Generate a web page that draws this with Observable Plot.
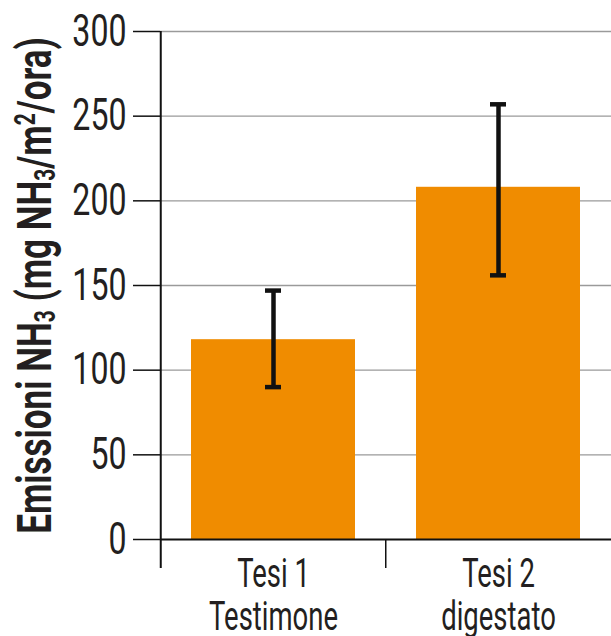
<!DOCTYPE html>
<html>
<head>
<meta charset="utf-8">
<script src="https://cdn.jsdelivr.net/npm/d3@7"></script>
<script src="https://cdn.jsdelivr.net/npm/@observablehq/plot@0.6"></script>
<style>
  html, body { margin: 0; padding: 0; background: #ffffff; }
  svg { display: block; }
</style>
</head>
<body>
<div id="chart"></div>
<script>
// ---- data ----
const categories = ["Tesi 1\nTestimone", "Tesi 2\ndigestato"];
const values = [118, 208];
const errLow = [90, 156];
const errHigh = [147, 257];
const yTicks = [0, 50, 100, 150, 200, 250, 300];
const yLabelParts = [
  {t: "Emissioni NH", k: "n"}, {t: "3", k: "sub"},
  {t: " (mg NH", k: "n"}, {t: "3", k: "sub"},
  {t: "/m", k: "n"}, {t: "2", k: "sup"}, {t: "/ora)", k: "n"}
];
const yLabelText = yLabelParts.map(p => p.t).join("");

const data = categories.map((c, i) => ({cat: c, value: values[i], lo: errLow[i], hi: errHigh[i]}));

const W = 611, H = 636, mL = 160, mR = 0, mT = 31, mB = 97;
const ink = "#231f20";
const xOpts = {domain: categories, paddingInner: 0.27, paddingOuter: 0.135};
const xs = Plot.scale({x: {type: "band", range: [mL, W - mR], ...xOpts}});
const half = xs.step / 2;

const chart = Plot.plot({
  width: W, height: H,
  marginLeft: mL, marginRight: mR, marginTop: mT, marginBottom: mB,
  style: {fontFamily: "Roboto, 'Liberation Sans', sans-serif", color: ink, background: "#ffffff", overflow: "visible"},
  x: {...xOpts, label: null},
  y: {domain: [0, 300], label: null},
  marks: [
    Plot.gridY(yTicks.filter(t => t > 0), {stroke: "#9a9a9a", strokeOpacity: 1, strokeWidth: 1.3}),
    Plot.barY(data, {x: "cat", y: "value", fill: "#f08c00"}),
    Plot.ruleX(data, {x: "cat", y1: "lo", y2: "hi", stroke: "#111", strokeWidth: 4.5}),
    Plot.tickY(data, {x: "cat", y: "hi", stroke: "#111", strokeWidth: 4.5, inset: 74}),
    Plot.tickY(data, {x: "cat", y: "lo", stroke: "#111", strokeWidth: 4.5, inset: 74}),
    Plot.ruleY([0], {stroke: "#111", strokeWidth: 2.2}),
    Plot.ruleX([categories[0]], {x: d => d, dx: -half, stroke: "#111", strokeWidth: 2, insetBottom: -29}),
    Plot.ruleX([categories[1]], {x: d => d, dx: -half, y1: 0, y2: 0, stroke: "#111", strokeWidth: 1.5, insetBottom: -29}),
    Plot.axisY({ticks: yTicks, tickSize: 27, tickPadding: 7, fontSize: 44, stroke: "#111", strokeWidth: 1.5, label: null}),
    Plot.axisX({tickSize: 0, tickPadding: 18, fontSize: 41, lineHeight: 1.03, label: null}),
    Plot.text([yLabelText], {frameAnchor: "left", textAnchor: "middle", rotate: -90, dx: -125, fontSize: 48, fontWeight: "bold", fill: ink, text: d => d})
  ]
});

const svg = d3.select(chart);
function squeeze(nodes, s) {
  nodes.forEach(function (node) {
    const t = node.getAttribute("transform") || "";
    node.setAttribute("transform", t + ` scale(${s},1)`);
  });
}
// y label with sub/superscripts
const labelNodes = svg.selectAll("text").nodes().filter(n => n.textContent === yLabelText);
labelNodes.forEach(function (node) {
  const txt = d3.select(node);
  txt.text(null);
  for (const p of yLabelParts) {
    const ts = txt.append("tspan").text(p.t);
    if (p.k === "sub") ts.attr("font-size", "60%").attr("baseline-shift", "-0.15em");
    if (p.k === "sup") ts.attr("font-size", "60%").attr("baseline-shift", "0.55em");
  }
});
squeeze(svg.selectAll('g[aria-label="y-axis tick label"] text').nodes(), 0.73);
squeeze(svg.selectAll('g[aria-label="x-axis tick label"] text').nodes(), 0.67);
squeeze(labelNodes, 0.73);

document.getElementById("chart").appendChild(chart);
</script>
</body>
</html>
